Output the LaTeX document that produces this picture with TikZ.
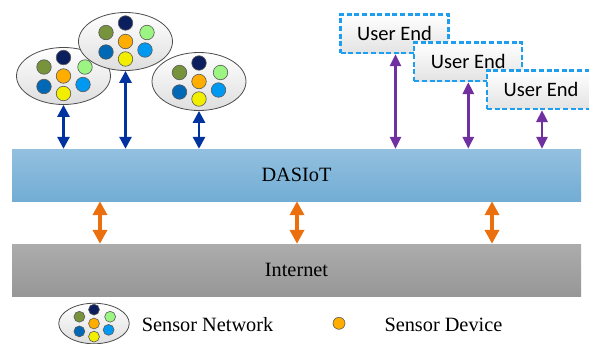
\documentclass[tikz,border=0pt]{standalone}
\usepackage{fontspec}
\setmainfont{Liberation Serif}
\newfontfamily\uefont{Carlito}
\usetikzlibrary{arrows.meta,shapes.geometric}
\definecolor{cnavy}{HTML}{0B1F5E}
\definecolor{colive}{HTML}{77933C}
\definecolor{clgreen}{HTML}{9CF582}
\definecolor{corange}{HTML}{FFAE00}
\definecolor{cdblue}{HTML}{0068B4}
\definecolor{clblue}{HTML}{0099F2}
\definecolor{cyellow}{HTML}{F2EE00}
\definecolor{bartop}{HTML}{93C0DF}
\definecolor{barbot}{HTML}{72ADD4}
\definecolor{nettop}{HTML}{ACACAC}
\definecolor{netbot}{HTML}{979797}
\definecolor{arrblue}{HTML}{0032A0}
\definecolor{arrpurple}{HTML}{7030A0}
\definecolor{arrorange}{HTML}{EC6F0E}
\definecolor{uedash}{HTML}{1E9EF0}
\tikzset{
  netell/.style={shape=ellipse, inner sep=0pt, draw=black!70, line width=0.8pt,
    top color=white, bottom color=black!13},
  dot/.style={shape=circle, inner sep=0pt, draw=black!65, line width=0.6pt},
  barbox/.style={shape=rectangle, inner sep=0pt, minimum width=569pt, minimum height=52pt,
    font=\fontsize{20.3}{24}\selectfont},
  uebox/.style={shape=rectangle, inner sep=0pt, minimum width=108pt, minimum height=38.5pt,
    draw=uedash, line width=2.2pt, dash pattern=on 5pt off 2.6pt,
    top color=white, bottom color=black!11, font=\uefont\fontsize{20.5}{24}\selectfont},
  barrow/.style={draw=arrblue, line width=2.8pt,
    {Triangle[width=12pt,length=12pt]}-{Triangle[width=12pt,length=12pt]}},
  parrow/.style={draw=arrpurple, line width=2.8pt,
    {Triangle[width=11pt,length=12pt]}-{Triangle[width=11pt,length=12pt]}},
  oarrow/.style={draw=arrorange, line width=4.5pt,
    {Triangle[width=14pt,length=14pt]}-{Triangle[width=14pt,length=14pt]}},
  legtext/.style={anchor=base west, inner sep=0pt, font=\fontsize{20.3}{24}\selectfont}
}
% name, cx, cy, scale, ellipse height
\newcommand\snet[5]{%
  \node[netell, minimum width={#4*94pt}, minimum height={#5pt}] (#1) at (#2,#3) {};
  \node[dot, fill=cnavy,   minimum size={#4*14.5pt}] (#1-a) at ({#2},{#3-#4*18.5}) {};
  \node[dot, fill=colive,  minimum size={#4*14.5pt}] (#1-b) at ({#2-#4*19.5},{#3-#4*9}) {};
  \node[dot, fill=clgreen, minimum size={#4*14.5pt}] (#1-c) at ({#2+#4*21.5},{#3-#4*9}) {};
  \node[dot, fill=corange, minimum size={#4*14.5pt}] (#1-d) at ({#2},{#3}) {};
  \node[dot, fill=cdblue,  minimum size={#4*14.5pt}] (#1-e) at ({#2-#4*19.5},{#3+#4*10.5}) {};
  \node[dot, fill=clblue,  minimum size={#4*14.5pt}] (#1-f) at ({#2+#4*19.5},{#3+#4*8.5}) {};
  \node[dot, fill=cyellow, minimum size={#4*14.5pt}] (#1-g) at ({#2},{#3+#4*17.5}) {};
}
\begin{document}
\begin{tikzpicture}[x=1pt,y=-1pt]
\useasboundingbox (0,0) rectangle (589,343);
\clip (0,0) rectangle (589,343);

% layers
\node[barbox, top color=bartop, bottom color=barbot] (dasiot) at (296.5,175) {DASIoT};
\node[barbox, top color=nettop, bottom color=netbot] (internet) at (296.5,270) {Internet};

% sensor networks
\snet{n1}{63.5}{76}{1}{57}
\snet{n2}{125.5}{41.5}{1}{58}
\snet{n3}{199}{81.5}{1}{58}

% user ends
\node[uebox] (ue1) at (394.5,33.8) {User End};
\node[uebox] (ue2) at (468.3,61.8) {User End};
\node[uebox] (ue3) at (541,89.7) {User End};

% connectors
\draw[barrow] (n1.south) -- (n1.south |- dasiot.north);
\draw[barrow] (n2.south) -- (n2.south |- dasiot.north);
\draw[barrow] (n3.south) -- (n3.south |- dasiot.north);
\draw[parrow] ([xshift=1pt]ue1.south) -- ([xshift=1pt]ue1.south |- dasiot.north);
\draw[parrow] (ue2.south) -- (ue2.south |- dasiot.north);
\draw[parrow] ([xshift=1pt]ue3.south) -- ([xshift=1pt]ue3.south |- dasiot.north);
\draw[oarrow] ([xshift=-196.5pt]dasiot.south) -- ([xshift=-196.5pt]internet.north);
\draw[oarrow] ([xshift=0.5pt]dasiot.south) -- ([xshift=0.5pt]internet.north);
\draw[oarrow] ([xshift=195.5pt]dasiot.south) -- ([xshift=195.5pt]internet.north);

% legend
\snet{leg}{94}{323.5}{0.75}{40.5}
\node[legtext] (legnet) at (141.7,331.3) {Sensor Network};
\node[dot, fill=corange, minimum size=12pt] (legdev) at (339,323.3) {};
\node[legtext] (legdevtext) at (384.3,331.3) {Sensor Device};
\end{tikzpicture}
\end{document}
